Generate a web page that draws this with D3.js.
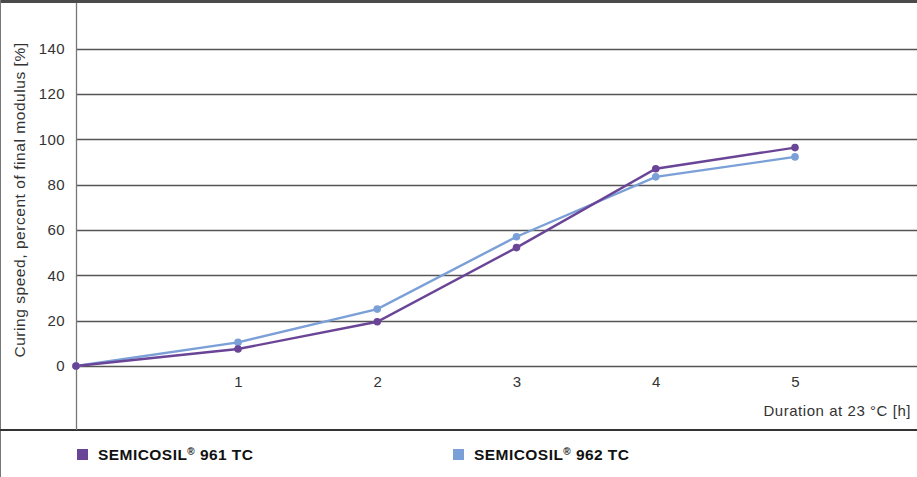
<!DOCTYPE html>
<html><head><meta charset="utf-8">
<script src="https://cdn.jsdelivr.net/npm/d3@7"></script>
<style>body{margin:0;background:#fff}svg{display:block}</style>
</head><body>
<script>
const hours = [0, 1, 2, 3, 4, 5];
const semicosil961 = [0, 7.5, 19.5, 52.2, 87, 96.3];
const semicosil962 = [0, 10.4, 25.1, 57, 83.4, 92.2];
const yTicks = [0, 20, 40, 60, 80, 100, 120, 140];
const xTicks = [1, 2, 3, 4, 5];
const seriesNames = ["SEMICOSIL® 961 TC", "SEMICOSIL® 962 TC"];
const colors = ["#6a4597", "#7b9fd7"];

const W = 917, H = 477;
const svg = d3.select("body").append("svg").attr("width", W).attr("height", H);
const font = "'Liberation Sans', Arial, Helvetica, sans-serif";

const x = d3.scaleLinear().domain([0, 1, 5]).range([76, 238, 795]);
const y = d3.scaleLinear().domain([0, 140]).range([366, 48.5]);

// frame
svg.append("rect").attr("x",0).attr("y",0).attr("width",W).attr("height",3).attr("fill","#4a4a4a");
svg.append("line").attr("x1",0.5).attr("x2",0.5).attr("y1",0).attr("y2",H).attr("stroke","#777").attr("stroke-width",1);
svg.append("line").attr("x1",0).attr("x2",W).attr("y1",430).attr("y2",430).attr("stroke","#333").attr("stroke-width",2);

// grid
const grid = svg.append("g");
grid.selectAll("line").data(yTicks).join("line")
  .attr("x1",76).attr("x2",W).attr("y1",d=>Math.round(y(d))+0.5).attr("y2",d=>Math.round(y(d))+0.5)
  .attr("stroke","#555").attr("stroke-width",1.3);

// y axis
const yAxis = d3.axisLeft(y).tickValues(yTicks).tickSize(0).tickPadding(11);
const gy = svg.append("g").attr("transform","translate(76,0)").call(yAxis);
gy.select(".domain").remove();
gy.selectAll("text").attr("font-family",font).attr("font-size",15).attr("letter-spacing","0.4px").attr("fill","#333");
svg.append("line").attr("x1",76.5).attr("x2",76.5).attr("y1",3).attr("y2",430).attr("stroke","#777").attr("stroke-width",1.3);

// x axis
const xAxis = d3.axisBottom(x).tickValues(xTicks).tickSize(0).tickPadding(10).tickFormat(d3.format("d"));
const gx = svg.append("g").attr("transform","translate(0,366)").call(xAxis);
gx.select(".domain").remove();
gx.selectAll("text").attr("font-family",font).attr("font-size",15).attr("fill","#333");

// titles
svg.append("text").attr("x",911).attr("y",415.5).attr("text-anchor","end")
  .attr("font-family",font).attr("font-size",15).attr("letter-spacing","0.55px").attr("fill","#333").text("Duration at 23 °C [h]");
svg.append("text").attr("transform","translate(25,200) rotate(-90)").attr("text-anchor","middle")
  .attr("font-family",font).attr("font-size",15.5).attr("letter-spacing","0.55px").attr("fill","#333").text("Curing speed, percent of final modulus [%]");

// series
const series = [semicosil961, semicosil962];
const line = d3.line().x((d,i)=>x(hours[i])).y(d=>y(d));
[1,0].forEach(s => {
  svg.append("path").datum(series[s]).attr("d",line).attr("fill","none")
    .attr("stroke",colors[s]).attr("stroke-width",2.4);
});
[1,0].forEach(s => {
  svg.append("g").selectAll("circle").data(series[s]).join("circle")
    .attr("cx",(d,i)=>x(hours[i])).attr("cy",d=>y(d)).attr("r",3.8).attr("fill",colors[s]);
});

// legend
const legX = [77, 453];
seriesNames.forEach((n,i) => {
  svg.append("rect").attr("x",legX[i]).attr("y",449).attr("width",11).attr("height",11).attr("fill",colors[i]);
  const t = svg.append("text").attr("x",legX[i]+21).attr("y",460)
    .attr("font-family",font).attr("font-size",15.5).attr("font-weight","bold").attr("letter-spacing","0.45px").attr("fill","#111");
  const parts = n.split("®");
  t.append("tspan").text(parts[0]);
  t.append("tspan").attr("font-size",10).attr("dy",-5).text("®");
  t.append("tspan").attr("dy",5).text(parts[1]);
});
</script>
</body></html>
